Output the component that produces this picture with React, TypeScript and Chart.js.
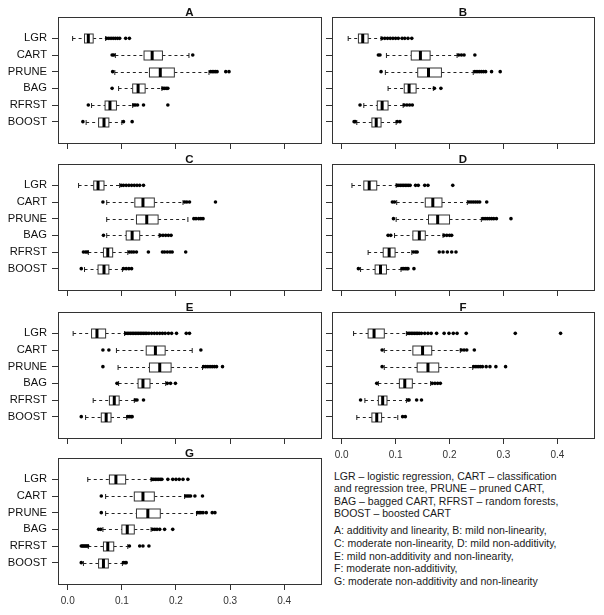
import React, { useEffect, useRef } from 'react';
import { Chart, registerables } from 'chart.js';

Chart.register(...registerables);

// ---------- data ----------
const METHODS = ['LGR', 'CART', 'PRUNE', 'BAG', 'RFRST', 'BOOST'];
const X_TICKS = [0, 0.1, 0.2, 0.3, 0.4];
const X_LIMITS = [0, 0.45];

// [lower whisker, Q1, median, Q3, upper whisker] per method (LGR..BOOST)
const statsA = [[0.009, 0.031, 0.038, 0.047, 0.070], [0.088, 0.141, 0.156, 0.175, 0.224], [0.087, 0.151, 0.171, 0.197, 0.261], [0.094, 0.120, 0.130, 0.143, 0.174], [0.044, 0.069, 0.078, 0.090, 0.120], [0.034, 0.057, 0.067, 0.076, 0.100]];
const outA = [[0.072, 0.076, 0.080, 0.084, 0.088, 0.092, 0.096, 0.107, 0.114], [0.082, 0.085, 0.231], [0.083, 0.264, 0.267, 0.270, 0.273, 0.276, 0.292, 0.298], [0.082, 0.176, 0.179, 0.182, 0.185], [0.038, 0.122, 0.125, 0.129, 0.140, 0.185], [0.028, 0.103, 0.119]];

const statsB = [[0.012, 0.031, 0.039, 0.049, 0.073], [0.083, 0.129, 0.146, 0.164, 0.214], [0.081, 0.141, 0.161, 0.185, 0.244], [0.086, 0.116, 0.125, 0.138, 0.170], [0.041, 0.066, 0.075, 0.086, 0.114], [0.028, 0.056, 0.064, 0.073, 0.101]];
const outB = [[0.075, 0.080, 0.085, 0.090, 0.095, 0.100, 0.105, 0.112, 0.117, 0.123, 0.130], [0.068, 0.071, 0.217, 0.222, 0.227, 0.247], [0.073, 0.247, 0.251, 0.255, 0.259, 0.263, 0.267, 0.278, 0.294], [0.172, 0.184], [0.034, 0.116, 0.121, 0.126, 0.131], [0.023, 0.025, 0.103, 0.108]];

const statsC = [[0.020, 0.048, 0.056, 0.067, 0.096], [0.072, 0.124, 0.139, 0.160, 0.213], [0.072, 0.127, 0.146, 0.167, 0.222], [0.072, 0.108, 0.119, 0.133, 0.169], [0.038, 0.066, 0.074, 0.083, 0.111], [0.031, 0.056, 0.067, 0.076, 0.101]];
const outC = [[0.099, 0.103, 0.108, 0.113, 0.118, 0.123, 0.128, 0.133, 0.140], [0.065, 0.216, 0.220, 0.225, 0.273], [0.233, 0.237, 0.242, 0.246, 0.250], [0.066, 0.171, 0.176, 0.181, 0.186, 0.191], [0.029, 0.033, 0.036, 0.114, 0.118, 0.122, 0.127, 0.149, 0.175, 0.179, 0.184, 0.189, 0.193, 0.218], [0.025, 0.103, 0.108, 0.113, 0.118]];

const statsD = [[0.019, 0.041, 0.051, 0.065, 0.101], [0.102, 0.155, 0.169, 0.186, 0.233], [0.101, 0.161, 0.178, 0.200, 0.259], [0.098, 0.132, 0.144, 0.155, 0.188], [0.049, 0.077, 0.088, 0.099, 0.130], [0.035, 0.062, 0.072, 0.083, 0.110]];
const outD = [[0.103, 0.106, 0.109, 0.112, 0.115, 0.118, 0.121, 0.124, 0.127, 0.137, 0.142, 0.154, 0.160, 0.206], [0.094, 0.098, 0.236, 0.240, 0.244, 0.248, 0.252, 0.256, 0.269], [0.096, 0.262, 0.266, 0.270, 0.274, 0.278, 0.282, 0.287, 0.314], [0.086, 0.091, 0.190, 0.195, 0.200, 0.204], [0.133, 0.137, 0.140, 0.181, 0.188, 0.196, 0.204, 0.212], [0.031, 0.112, 0.115, 0.118, 0.121, 0.123, 0.134]];

const statsE = [[0.010, 0.044, 0.054, 0.070, 0.105], [0.090, 0.145, 0.162, 0.180, 0.230], [0.093, 0.151, 0.170, 0.191, 0.249], [0.094, 0.130, 0.139, 0.152, 0.181], [0.047, 0.077, 0.086, 0.095, 0.123], [0.033, 0.062, 0.071, 0.080, 0.109]];
const outE = [[0.107, 0.110, 0.113, 0.116, 0.119, 0.122, 0.125, 0.128, 0.131, 0.134, 0.137, 0.140, 0.143, 0.146, 0.150, 0.155, 0.160, 0.165, 0.170, 0.175, 0.180, 0.186, 0.192, 0.201, 0.219, 0.225], [0.065, 0.076, 0.246], [0.065, 0.251, 0.255, 0.259, 0.263, 0.267, 0.271, 0.275, 0.286], [0.091, 0.184, 0.190, 0.199], [0.125, 0.128, 0.140], [0.025, 0.111, 0.114, 0.117, 0.119]];

const statsF = [[0.022, 0.049, 0.060, 0.079, 0.120], [0.079, 0.132, 0.150, 0.167, 0.220], [0.079, 0.140, 0.160, 0.180, 0.243], [0.068, 0.107, 0.117, 0.131, 0.165], [0.043, 0.068, 0.076, 0.084, 0.120], [0.028, 0.056, 0.065, 0.074, 0.104]];
const outF = [[0.123, 0.126, 0.129, 0.132, 0.135, 0.138, 0.141, 0.144, 0.148, 0.154, 0.160, 0.166, 0.176, 0.190, 0.199, 0.207, 0.214, 0.231, 0.322, 0.406], [0.075, 0.222, 0.227, 0.232, 0.246], [0.075, 0.245, 0.249, 0.253, 0.257, 0.261, 0.268, 0.275, 0.286, 0.304], [0.065, 0.168, 0.173, 0.178, 0.183], [0.035, 0.123, 0.125, 0.139, 0.148], [0.113, 0.118]];

const statsG = [[0.037, 0.077, 0.089, 0.107, 0.154], [0.070, 0.123, 0.139, 0.160, 0.216], [0.070, 0.127, 0.148, 0.171, 0.238], [0.065, 0.100, 0.110, 0.123, 0.154], [0.038, 0.066, 0.074, 0.085, 0.111], [0.029, 0.057, 0.066, 0.075, 0.101]];
const outG = [[0.156, 0.159, 0.162, 0.165, 0.168, 0.171, 0.174, 0.185, 0.194, 0.200, 0.206, 0.213, 0.222], [0.062, 0.218, 0.221, 0.224, 0.227, 0.235, 0.249], [0.062, 0.240, 0.243, 0.246, 0.250, 0.256, 0.267, 0.272], [0.057, 0.061, 0.157, 0.161, 0.165, 0.170, 0.179, 0.194], [0.025, 0.027, 0.029, 0.031, 0.033, 0.035, 0.037, 0.114, 0.133, 0.139, 0.150], [0.025, 0.103, 0.106, 0.108]];

const LEGEND_METHODS = [
  'LGR – logistic regression, CART – classification',
  'and regression tree, PRUNE – pruned CART,',
  'BAG – bagged CART, RFRST – random forests,',
  'BOOST – boosted CART',
];
const LEGEND_SCENARIOS = [
  'A: additivity and linearity, B: mild non-linearity,',
  'C: moderate non-linearity, D: mild non-additivity,',
  'E: mild non-additivity and non-linearity,',
  'F: moderate non-additivity,',
  'G: moderate non-additivity and non-linearity',
];

// ---------- layout ----------
const FONT = '"Liberation Sans", Arial, Helvetica, sans-serif';
const ROW_TOPS = [17, 164, 312, 458];
const AREA_H = 126;
const PAD_TOP = 22;
const BOTTOM_H = 26;
const COLS = [
  { left: 0, width: 326, yAxisW: 58, padRight: 5 },
  { left: 326, width: 278, yAxisW: 6, padRight: 10 },
];

const PANELS = [
  { title: 'A', stats: statsA, out: outA, col: 0, row: 0, xLabels: false },
  { title: 'B', stats: statsB, out: outB, col: 1, row: 0, xLabels: false },
  { title: 'C', stats: statsC, out: outC, col: 0, row: 1, xLabels: false },
  { title: 'D', stats: statsD, out: outD, col: 1, row: 1, xLabels: false },
  { title: 'E', stats: statsE, out: outE, col: 0, row: 2, xLabels: false },
  { title: 'F', stats: statsF, out: outF, col: 1, row: 2, xLabels: true },
  { title: 'G', stats: statsG, out: outG, col: 0, row: 3, xLabels: true },
];

const rowValue = (i: number) => METHODS.length - i; // LGR at top (6) .. BOOST (1)

const boxPlugin = {
  id: 'boxes',
  beforeDatasetsDraw(chart: any, _args: any, opts: any) {
    const { ctx, scales } = chart;
    const x = scales.x;
    const y = scales.y;
    const stats: number[][] = opts.stats;
    ctx.save();
    const line = (x1: number, y1: number, x2: number, y2: number) => {
      ctx.beginPath();
      ctx.moveTo(x1, y1);
      ctx.lineTo(x2, y2);
      ctx.stroke();
    };
    stats.forEach((s, i) => {
      const yc = Math.round(y.getPixelForValue(rowValue(i))) + 0.5;
      const [lo, q1, med, q3, hi] = s.map((v) => x.getPixelForValue(v));
      const h = 4.5;
      ctx.lineWidth = 1;
      ctx.strokeStyle = '#222';
      ctx.setLineDash([3, 3]);
      line(lo, yc, q1, yc);
      line(q3, yc, hi, yc);
      ctx.setLineDash([]);
      line(lo, yc - 2.5, lo, yc + 2.5);
      line(hi, yc - 2.5, hi, yc + 2.5);
      ctx.fillStyle = '#fff';
      ctx.fillRect(q1, yc - h, q3 - q1, 2 * h);
      ctx.strokeStyle = '#333';
      ctx.strokeRect(q1, yc - h, q3 - q1, 2 * h);
      ctx.strokeStyle = '#000';
      ctx.lineWidth = 3;
      line(med, yc - h, med, yc + h);
    });
    ctx.restore();
  },
  afterDraw(chart: any, _args: any, opts: any) {
    const { ctx, chartArea } = chart;
    ctx.save();
    ctx.strokeStyle = '#333';
    ctx.lineWidth = 1;
    ctx.strokeRect(
      Math.round(chartArea.left) + 0.5,
      Math.round(chartArea.top) + 0.5,
      Math.round(chartArea.right - chartArea.left),
      Math.round(chartArea.bottom - chartArea.top)
    );
    ctx.fillStyle = '#111';
    ctx.font = `bold 11.5px ${FONT}`;
    ctx.textAlign = 'center';
    ctx.textBaseline = 'middle';
    ctx.fillText(opts.title, (chartArea.left + chartArea.right) / 2, chartArea.top - 4);
    ctx.restore();
  },
};

function Panel({ p }: { p: any }) {
  const ref = useRef<HTMLCanvasElement>(null);
  const col = COLS[p.col];
  const top = ROW_TOPS[p.row] - PAD_TOP;
  const height = PAD_TOP + AREA_H + BOTTOM_H;

  useEffect(() => {
    const pts: { x: number; y: number }[] = [];
    p.out.forEach((arr: number[], i: number) => arr.forEach((v) => pts.push({ x: v, y: rowValue(i) })));
    const span = X_LIMITS[1] - X_LIMITS[0];
    const chart = new Chart(ref.current as HTMLCanvasElement, {
      type: 'scatter',
      data: {
        datasets: [
          {
            data: pts,
            pointRadius: 1.8,
            pointHoverRadius: 1.8,
            pointBackgroundColor: '#000',
            pointBorderWidth: 0,
            showLine: false,
          },
        ],
      },
      options: {
        animation: false,
        responsive: false,
        events: [],
        layout: { padding: { top: PAD_TOP, right: col.padRight, bottom: 0, left: 0 } },
        plugins: {
          legend: { display: false },
          tooltip: { enabled: false },
          boxes: { stats: p.stats, title: p.title },
        } as any,
        scales: {
          x: {
            type: 'linear',
            min: X_LIMITS[0] - span * 0.04,
            max: X_LIMITS[1] + span * 0.04,
            afterBuildTicks: (s: any) => {
              s.ticks = X_TICKS.map((v) => ({ value: v }));
            },
            afterFit: (s: any) => {
              s.height = BOTTOM_H;
            },
            grid: { display: true, drawOnChartArea: false, drawTicks: true, tickLength: 6, color: '#333' },
            border: { display: false },
            ticks: {
              display: p.xLabels,
              autoSkip: false,
              maxRotation: 0,
              padding: 5,
              color: '#333',
              font: { family: FONT, size: 10 },
              callback: (v: any) => Number(v).toFixed(1),
            },
          },
          y: {
            type: 'linear',
            min: -0.28,
            max: 7.28,
            afterBuildTicks: (s: any) => {
              s.ticks = METHODS.map((_, i) => ({ value: rowValue(i) }));
            },
            afterFit: (s: any) => {
              s.width = col.yAxisW;
            },
            grid: { display: true, drawOnChartArea: false, drawTicks: true, tickLength: 6, color: '#333' },
            border: { display: false },
            ticks: {
              display: p.col === 0,
              autoSkip: false,
              padding: 5,
              color: '#111',
              font: { family: FONT, size: 11.2 },
              callback: (v: any) => METHODS[METHODS.length - Number(v)] ?? '',
            },
          },
        },
      },
      plugins: [boxPlugin],
    } as any);
    return () => chart.destroy();
  }, []);

  return (
    <canvas
      ref={ref}
      width={col.width}
      height={height}
      style={{ position: 'absolute', left: col.left, top, width: col.width, height }}
    />
  );
}

export default function App() {
  return (
    <div>
      {PANELS.map((p) => (
        <Panel key={p.title} p={p} />
      ))}
      <div
        style={{
          position: 'absolute',
          left: 334,
          top: 469.5,
          fontFamily: FONT,
          fontSize: 10.5,
          lineHeight: '12.6px',
          color: '#1a1a1a',
          whiteSpace: 'nowrap',
        }}
      >
        {LEGEND_METHODS.map((l) => (
          <div key={l}>{l}</div>
        ))}
        <div style={{ height: 4.5 }} />
        {LEGEND_SCENARIOS.map((l) => (
          <div key={l}>{l}</div>
        ))}
      </div>
    </div>
  );
}
